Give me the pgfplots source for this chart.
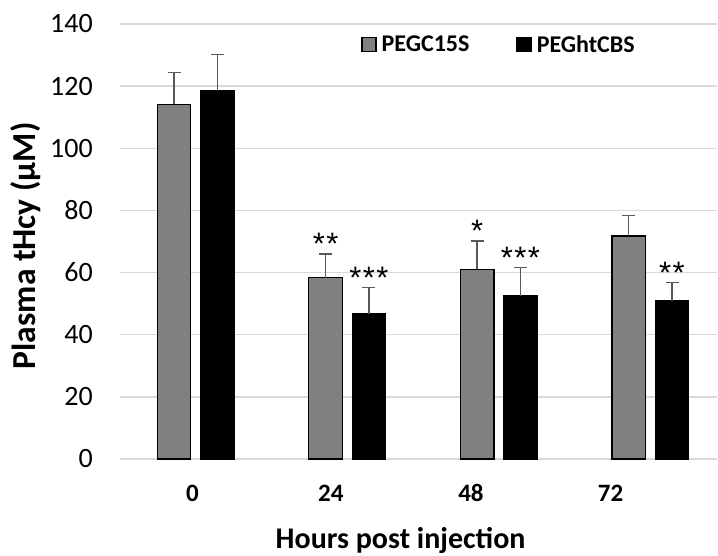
\documentclass[border=0pt]{standalone}
\usepackage{pgfplots}
\pgfplotsset{compat=1.18}
\usepackage{fontspec}
\setmainfont{Carlito}
\newfontfamily\starfont{Liberation Sans}
\definecolor{barGray}{HTML}{808080}
\definecolor{gridGray}{HTML}{D9D9D9}
\definecolor{errGray}{HTML}{595959}
\begin{document}
\begin{tikzpicture}
\begin{axis}[
  scale only axis,
  width=597bp, height=435bp,
  xmin=-0.5, xmax=3.44,
  ymin=0, ymax=140,
  ybar=9.9bp,
  bar width=33.5bp,
  ytick={0,20,40,60,80,100,120,140},
  yticklabels={0,20,40,60,80,100,120,140},
  xtick={-0.022,0.892,1.816,2.738},
  xticklabels={0,24,48,72},
  major tick length=0pt,
  axis line style={draw=none},
  ymajorgrids,
  grid style={gridGray, line width=1.3bp},
  y tick label style={font=\fontsize{28bp}{32bp}\selectfont, anchor=east, inner sep=0pt, xshift=-27bp},
  x tick label style={font=\fontsize{25bp}{30bp}\selectfont\bfseries, anchor=base, inner sep=0pt, yshift=-42.7bp},
  xlabel={Hours post injection},
  xlabel style={font=\fontsize{30bp}{34bp}\selectfont\bfseries, at={(axis description cs:0.47,0)}, anchor=base, inner sep=0pt, yshift=-89bp},
  ylabel={Plasma tHcy (µM)},
  ylabel style={font=\fontsize{33.5bp}{38bp}\selectfont\bfseries, at={(axis description cs:0,0.49)}, anchor=center, inner sep=0pt, yshift=94bp},
  legend columns=2,
  legend style={draw=none, fill=none, at={(rel axis cs:0.404,0.974)}, anchor=north west,
    font=\fontsize{24bp}{28bp}\selectfont\bfseries, inner sep=0pt,
    nodes={inner sep=0pt},
    /tikz/every odd column/.append style={column sep=5bp},
    /tikz/every even column/.append style={column sep=47bp}},
  legend image code/.code={\draw[#1] (0bp,-7bp) rectangle (14bp,7bp);},
  error bars/y dir=plus,
  error bars/y explicit,
  error bars/error bar style={errGray, line width=1.3bp},
  error bars/error mark options={errGray, rotate=90, mark size=6.5bp, line width=1.3bp},
]
\addplot[fill=barGray, draw=black, line width=1.3bp]
  coordinates {(0,114.2) +- (0,10.1) (1,58.4) +- (0,7.6) (2,61.0) +- (0,9.2) (3,71.8) +- (0,6.5)};
\addlegendentry{PEGC15S}
\addplot[fill=black, draw=black, line width=1.3bp]
  coordinates {(0,118.5) +- (0,11.7) (1,46.7) +- (0,8.4) (2,52.5) +- (0,9.1) (3,51.0) +- (0,5.8)};
\addlegendentry{PEGhtCBS}
\coordinate (O) at (rel axis cs:0,0);
\begin{scope}[every node/.style={font=\starfont\fontsize{31bp}{35bp}\selectfont, anchor=base, inner sep=0pt, yshift=-1bp}]
\node at (axis cs:0.857,66.0) {*\kern1.5bp*};
\node at (axis cs:1.143,55.1) {*\kern1.5bp*\kern1.5bp*};
\node at (axis cs:1.857,70.2) {*};
\node at (axis cs:2.143,61.6) {*\kern1.5bp*\kern1.5bp*};
\node at (axis cs:3.143,56.8) {*\kern1.5bp*};
\end{scope}
\end{axis}
\pgfresetboundingbox
\path (O) ++(-120bp,-97bp) rectangle ++(718bp,556bp);
\end{tikzpicture}
\end{document}
